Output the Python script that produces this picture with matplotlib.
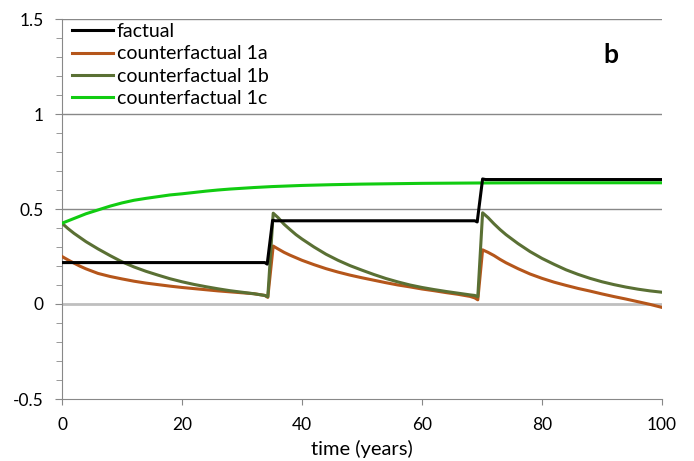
import matplotlib
matplotlib.use("Agg")
import matplotlib.pyplot as plt
from matplotlib.ticker import MultipleLocator

plt.rcParams['font.family'] = ['Lato', 'DejaVu Sans']

# factual (step-wise)
t_fact = [0, 33.8, 34.2, 35.1, 35.6, 68.8, 69.2, 70.1, 70.6, 100]
v_fact = [0.218, 0.218, 0.21, 0.44, 0.438, 0.438, 0.432, 0.658, 0.655, 0.655]

# counterfactual 1a
t_1a = [0, 1, 2, 3, 4, 6, 8, 10, 12, 14, 16, 18, 20, 22, 24, 26, 28, 30, 32, 33.8, 34.3, 35.2,
        36, 37, 38, 40, 42, 44, 46, 48, 50, 52, 54, 56, 58, 60, 62, 64, 66, 68, 68.8, 69.3, 70.1,
        71, 72, 73, 74, 76, 78, 80, 82, 84, 86, 88, 90, 92, 94, 96, 98, 100]
v_1a = [0.25, 0.232, 0.215, 0.199, 0.185, 0.161, 0.145, 0.132, 0.12, 0.11, 0.102, 0.094,
        0.087, 0.081, 0.075, 0.069, 0.064, 0.059, 0.054, 0.045, 0.035, 0.305,
        0.29, 0.272, 0.257, 0.23, 0.207, 0.186, 0.168, 0.152, 0.138, 0.125, 0.112, 0.1, 0.09,
        0.079, 0.07, 0.06, 0.051, 0.04, 0.032, 0.022, 0.285,
        0.272, 0.255, 0.235, 0.217, 0.186, 0.158, 0.135, 0.115, 0.098, 0.082, 0.068, 0.053,
        0.039, 0.026, 0.012, -0.002, -0.018]

# counterfactual 1b
t_1b = [0, 1, 2, 3, 4, 6, 8, 10, 12, 14, 16, 18, 20, 22, 24, 26, 28, 30, 32, 33.8, 34.3, 35.2,
        36, 37, 38, 39, 40, 42, 44, 46, 48, 50, 52, 54, 56, 58, 60, 62, 64, 66, 68, 68.8, 69.3,
        70.1, 71, 72, 73, 74, 76, 78, 80, 82, 84, 86, 88, 90, 92, 94, 96, 98, 100]
v_1b = [0.425, 0.397, 0.372, 0.35, 0.328, 0.29, 0.255, 0.222, 0.195, 0.172, 0.152, 0.133,
        0.117, 0.103, 0.091, 0.08, 0.07, 0.062, 0.054, 0.045, 0.038, 0.478,
        0.455, 0.42, 0.392, 0.365, 0.342, 0.3, 0.262, 0.23, 0.202, 0.178, 0.155, 0.134, 0.116,
        0.1, 0.087, 0.076, 0.066, 0.057, 0.048, 0.045, 0.038,
        0.48, 0.455, 0.422, 0.392, 0.365, 0.318, 0.276, 0.24, 0.209, 0.18, 0.156, 0.135,
        0.117, 0.102, 0.089, 0.078, 0.069, 0.062]

# counterfactual 1c
t_1c = [0, 2, 4, 6, 8, 10, 12, 14, 16, 18, 20, 22, 24, 26, 28, 30, 32, 35, 40, 45, 50,
        55, 60, 70, 80, 90, 100]
v_1c = [0.425, 0.45, 0.475, 0.495, 0.515, 0.532, 0.546, 0.556, 0.565, 0.574, 0.58, 0.587,
        0.594, 0.6, 0.605, 0.609, 0.613, 0.618, 0.624, 0.628, 0.631, 0.633, 0.635, 0.637,
        0.638, 0.638, 0.638]

fig = plt.figure(figsize=(6.94, 4.61), dpi=100)
ax = fig.add_axes([62 / 694, 1 - 399 / 461, 600 / 694, 380 / 461])

ax.plot(t_fact, v_fact, color='black', lw=2.2, label='factual', zorder=5)
ax.plot(t_1a, v_1a, color='#b5561b', lw=2.2, label='counterfactual 1a', zorder=3)
ax.plot(t_1b, v_1b, color='#5a7034', lw=2.2, label='counterfactual 1b', zorder=4)
ax.plot(t_1c, v_1c, color='#11cc11', lw=2.2, label='counterfactual 1c', zorder=4)

ax.set_xlim(0, 100)
ax.set_ylim(-0.5, 1.5)
ax.xaxis.set_major_locator(MultipleLocator(20))
ax.yaxis.set_minor_locator(MultipleLocator(0.1))
ax.set_yticks([-0.5, 0, 0.5, 1, 1.5])
ax.set_yticklabels(['-0.5', '0', '0.5', '1', '1.5'])

for y in [0.5, 1.0, 1.5]:
    ax.axhline(y, color='#888888', lw=1.0, zorder=1)
ax.axhline(0, color='#bfbfbf', lw=2.0, zorder=1)

for s in ['top', 'right']:
    ax.spines[s].set_visible(False)
ax.spines['left'].set_color('#888888')
ax.spines['bottom'].set_color('#888888')
ax.tick_params(axis='both', which='both', color='#888888', labelsize=12.5, direction='out')
ax.tick_params(axis='y', which='major', length=5, pad=8)
ax.tick_params(axis='y', which='minor', length=4)
ax.tick_params(axis='x', length=4, pad=9)

ax.set_xlabel('time (years)', fontsize=14.5, labelpad=5)
ax.text(0.915, 0.905, 'b', transform=ax.transAxes, fontsize=19, fontweight='bold',
        ha='center', va='center')

ax.legend(loc='upper left', bbox_to_anchor=(-0.006, 1.025), frameon=False, fontsize=14,
          handlelength=2.1, handletextpad=0.2, labelspacing=0.27, borderaxespad=0.3)

fig.savefig('out.png', dpi=100)
